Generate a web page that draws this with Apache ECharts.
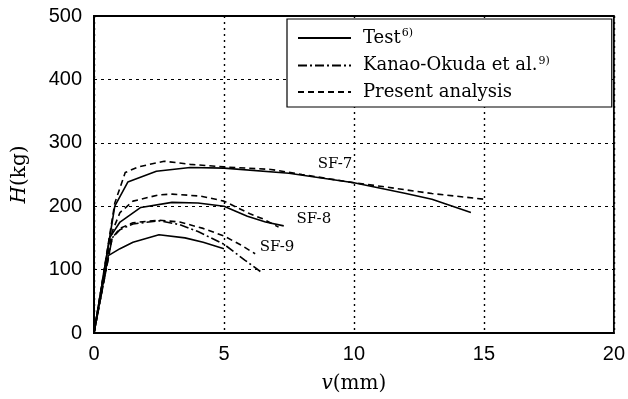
<!DOCTYPE html>
<html><head><meta charset="utf-8">
<script src="https://cdn.jsdelivr.net/npm/echarts@6/dist/echarts.min.js"></script>
<style>html,body{margin:0;padding:0;background:#fff}#c{width:628px;height:399px}</style>
</head><body><div id="c"></div>
<script>
const xTicks = [0, 5, 10, 15, 20];
const yTicks = [0, 100, 200, 300, 400, 500];
const sf7Test = [[0,0],[0.8,200],[1.3,238],[2.4,255],[3.7,261],[5,260],[7.5,252],[10,237],[12,220],[13,211],[14.5,190]];
const sf7Present = [[0,0],[0.8,205],[1.2,253],[1.7,262],[2.7,271],[3.7,266],[5,262],[6.8,258],[8,250],[10,237],[11.1,231],[13,220],[15,211]];
const sf8Test = [[0,0],[0.6,150],[1.0,175],[1.8,198],[3.0,206],[4,205],[5,200],[5.9,184],[6.6,175],[7.3,169]];
const sf8Present = [[0,0],[0.7,160],[1.0,190],[1.5,208],[2.5,218],[3.0,219],[4.1,216],[5,208],[6,188],[6.5,180],[7.1,167]];
const sf9Test = [[0,0],[0.55,122],[1,133],[1.5,143],[2.5,155],[3.5,150],[4.2,143],[5,133]];
const sf9Present = [[0,0],[0.7,150],[1.0,165],[1.5,174],[2.5,178],[3.3,175],[4.2,165],[5,153],[5.6,140],[6.2,125]];
const sf9Kanao = [[0,0],[0.7,150],[1.0,163],[1.5,172],[2.5,177],[3.3,171],[4,160],[5,140],[5.8,115],[6.4,97]];
const specimenLabels = [["SF-7",9.27,266],["SF-8",8.46,180],["SF-9",7.04,136]];
const legendNames = ["Test","Kanao-Okuda et al.","Present analysis"];
const legendRefs = {"Test":"6)","Kanao-Okuda et al.":"9)","Present analysis":""};

const serif = "'DejaVu Serif',serif";
const sans = "'Liberation Sans',Arial,sans-serif";
const solid = {color:'#000', width:1.6, type:'solid'};
const dashed = {color:'#000', width:1.6, type:[6,4]};
const dashdot = {color:'#000', width:1.6, type:[9,3,2,3]};

function mk(name, data, ls, extra){
  return Object.assign({name, type:'line', data, showSymbol:false, symbol:'none', lineStyle:ls, itemStyle:{color:'#000'}, animation:false, z:3}, extra||{});
}
const series = [
  mk(legendNames[0], sf7Test, solid, {markPoint:{symbol:'circle', symbolSize:0, data:specimenLabels.map(l=>({coord:[l[1],l[2]], value:l[0]})), label:{show:true, formatter:'{c}', color:'#000', fontFamily:serif, fontSize:15, position:'inside'}}}),
  mk(legendNames[1], sf9Kanao, dashdot),
  mk(legendNames[2], sf7Present, dashed),
  mk(legendNames[0], sf8Test, solid),
  mk(legendNames[0], sf9Test, solid),
  mk(legendNames[2], sf8Present, dashed),
  mk(legendNames[2], sf9Present, dashed)
];

const chart = echarts.init(document.getElementById('c'), null, {renderer:'canvas'});
chart.setOption({
  animation:false,
  backgroundColor:'#fff',
  grid:{left:94, right:14, top:16, bottom:64, show:true, borderColor:'#000', borderWidth:1.8, backgroundColor:'transparent'},
  legend:{
    data:legendNames, orient:'vertical', left:287, top:19,
    itemWidth:53, itemHeight:14, itemGap:8.5,
    padding:[9,62,6,10],
    itemStyle:{opacity:0},
    borderColor:'#000', borderWidth:1.2, backgroundColor:'#fff',
    formatter: n => '{t|'+n+'}' + (legendRefs[n] ? '{s|'+legendRefs[n]+'}' : ''),
    textStyle:{color:'#000', fontFamily:serif, fontSize:18,
      rich:{t:{fontFamily:serif, fontSize:18, lineHeight:20, color:'#000', padding:[0,0,0,7]}, s:{fontFamily:serif, fontSize:11, color:'#000', verticalAlign:'top', padding:[0,0,8,1]}}}
  },
  xAxis:{type:'value', min:0, max:20, interval:5,
    name:'{i|v}(mm)', nameLocation:'middle', nameGap:41,
    nameTextStyle:{fontFamily:serif, fontSize:20, color:'#000', rich:{i:{fontFamily:serif, fontStyle:'italic', fontSize:20, color:'#000'}}},
    axisLine:{lineStyle:{color:'#000', width:2}}, axisTick:{show:false},
    axisLabel:{color:'#000', fontFamily:sans, fontSize:20, margin:11},
    splitLine:{show:true, lineStyle:{color:'#000', width:1.4, type:[2,4]}}
  },
  yAxis:{type:'value', min:0, max:500, interval:100,
    name:'{i|H}(kg)', nameLocation:'middle', nameGap:64, nameRotate:90,
    nameTextStyle:{fontFamily:serif, fontSize:20, color:'#000', rich:{i:{fontFamily:serif, fontStyle:'italic', fontSize:20, color:'#000'}}},
    axisLine:{lineStyle:{color:'#000', width:2}}, axisTick:{show:false},
    axisLabel:{color:'#000', fontFamily:sans, fontSize:20, margin:12},
    splitLine:{show:true, lineStyle:{color:'#000', width:1, type:[3,4]}}
  },
  series
});
</script></body></html>
